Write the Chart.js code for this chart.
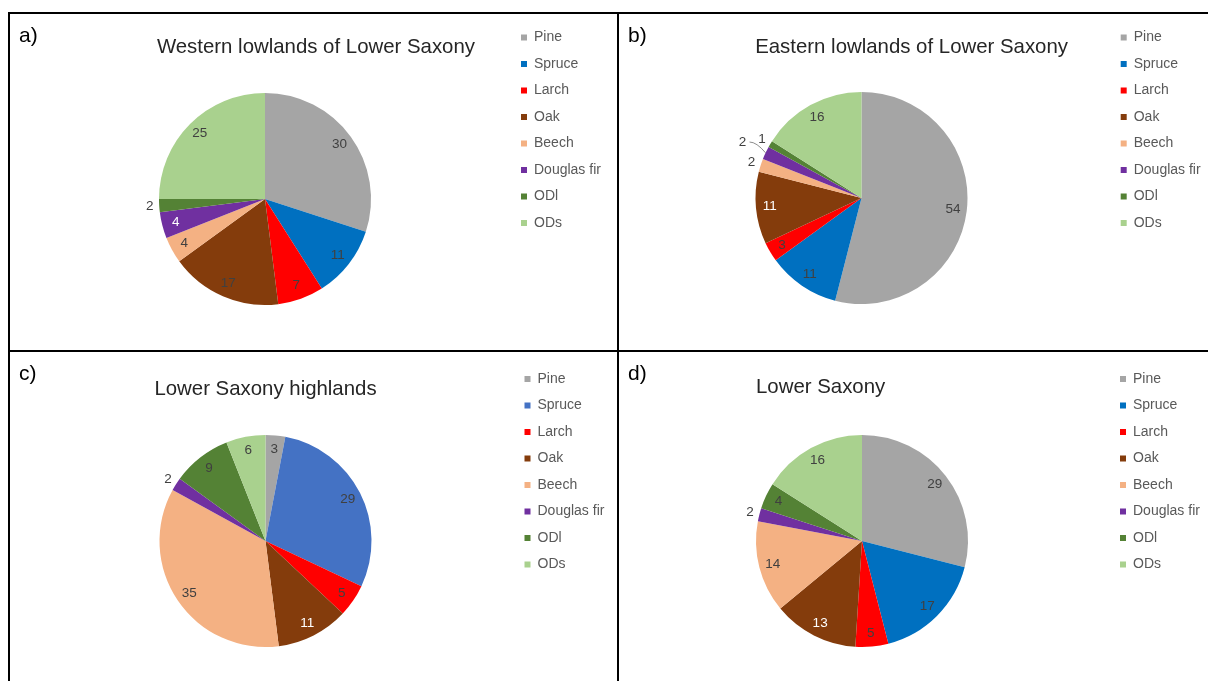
<!DOCTYPE html>
<html>
<head>
<meta charset="utf-8">
<title>Tree species shares in Lower Saxony</title>
<script src="https://cdn.jsdelivr.net/npm/chart.js@4.4.1/dist/chart.umd.min.js"></script>
<style>
  html, body { margin: 0; padding: 0; background: #fff; overflow: hidden; }
  #sheet { position: relative; width: 1208px; height: 681px; }
  #sheet canvas { position: absolute; }
  .rule { position: absolute; background: #000; }
</style>
</head>
<body>
<div id="sheet">
  <canvas id="chartA" width="607" height="336" style="left:10px;top:14px"></canvas>
  <canvas id="chartB" width="589" height="336" style="left:619px;top:14px"></canvas>
  <canvas id="chartC" width="607" height="329" style="left:10px;top:352px"></canvas>
  <canvas id="chartD" width="589" height="329" style="left:619px;top:352px"></canvas>
  <!-- panel frame -->
  <div class="rule" style="left:8px;top:12px;width:1200px;height:2px"></div>
  <div class="rule" style="left:8px;top:350px;width:1200px;height:2px"></div>
  <div class="rule" style="left:8px;top:12px;width:2px;height:669px"></div>
  <div class="rule" style="left:617px;top:12px;width:2px;height:669px"></div>
</div>
<script>
// species in every pie, clockwise from 12 o'clock
const species = ["Pine", "Spruce", "Larch", "Oak", "Beech", "Douglas fir", "ODl", "ODs"];

// share of each species (%)
const westernLowlands = [30, 11, 7, 17, 4, 4, 2, 25];
const easternLowlands = [54, 11, 3, 11, 2, 2, 1, 16];
const highlands = [3, 29, 5, 11, 35, 2, 9, 6];
const lowerSaxony = [29, 17, 5, 13, 14, 2, 4, 16];

const regionTitles = [
  "Western lowlands of Lower Saxony",
  "Eastern lowlands of Lower Saxony",
  "Lower Saxony highlands",
  "Lower Saxony",
];
const panelLetters = ["a)", "b)", "c)", "d)"];

// slice colours (the highlands chart uses a lighter blue for spruce)
const speciesColors = ["#a5a5a5", "#0070c0", "#ff0000", "#843c0c", "#f4b183", "#7030a0", "#548235", "#a9d18e"];
const highlandColors = ["#a5a5a5", "#4472c4", "#ff0000", "#843c0c", "#f4b183", "#7030a0", "#548235", "#a9d18e"];

const FONT = "'Liberation Sans', Arial, sans-serif";
Chart.defaults.font.family = FONT;

// legend column has the same width in every panel
const LEGEND_W = 95;

// empty layout box between the pie and the legend
const makeLegendGap = (width) => ({
  id: "legendGap",
  beforeInit(chart) {
    const legend = chart.legend;
    const fit = legend.fit;
    legend.fit = function () {
      fit.call(this);
      this.width = LEGEND_W;
    };
    Chart.layouts.addBox(chart, {
      position: "right",
      weight: 500,
      fullSize: false,
      options: {},
      isHorizontal: () => false,
      update(maxWidth, maxHeight) {
        this.width = width;
        this.height = maxHeight;
      },
      draw() {},
    });
  },
});

// value labels: inside the slice, outside for thin ones, one with a leader line
const valueLabels = {
  id: "valueLabels",
  afterDatasetsDraw(chart, args, opts) {
    const { ctx } = chart;
    const meta = chart.getDatasetMeta(0);
    const values = chart.data.datasets[0].data;
    ctx.save();
    ctx.font = "13.5px " + FONT;
    ctx.textAlign = "center";
    ctx.textBaseline = "middle";
    meta.data.forEach((arc, i) => {
      const { x, y, startAngle, endAngle, outerRadius } = arc.getProps(
        ["x", "y", "startAngle", "endAngle", "outerRadius"],
        true
      );
      const mid = (startAngle + endAngle) / 2;
      const lead = opts.leader.includes(i);
      const outside = opts.outside.includes(i);
      const r = outerRadius * (lead ? 1.24 : outside ? 1.09 : 0.87);
      const lx = x + Math.cos(mid) * r;
      const ly = y + Math.sin(mid) * r;
      if (lead) {
        ctx.strokeStyle = "#8c8c8c";
        ctx.lineWidth = 1;
        ctx.beginPath();
        ctx.moveTo(lx + 7, ly);
        ctx.quadraticCurveTo(lx + 14, ly, x + Math.cos(mid) * outerRadius, y + Math.sin(mid) * outerRadius);
        ctx.stroke();
      }
      ctx.fillStyle = opts.white.includes(i) ? "#ffffff" : "#404040";
      ctx.fillText(String(values[i]), lx, ly);
    });
    ctx.restore();
  },
};

// panel letter in the top left corner
const panelLetter = {
  id: "panelLetter",
  afterDraw(chart, args, opts) {
    const { ctx } = chart;
    ctx.save();
    ctx.font = "21px " + FONT;
    ctx.fillStyle = "#000";
    ctx.textAlign = "left";
    ctx.textBaseline = "alphabetic";
    ctx.fillText(opts.text, 9, 28);
    ctx.restore();
  },
};

const panels = [
  {
    id: "chartA", values: westernLowlands, colors: speciesColors, title: regionTitles[0], letter: panelLetters[0],
    titleAlign: "end", titlePad: { top: 17.6, bottom: 32.9 },
    pad: { top: 4, left: 45, right: 13.5, bottom: 45 }, gap: 33.5,
    outside: [6], leader: [], white: [5],
  },
  {
    id: "chartB", values: easternLowlands, colors: speciesColors, title: regionTitles[1], letter: panelLetters[1],
    titleAlign: "end", titlePad: { top: 17.6, bottom: 31.9 },
    pad: { top: 4, left: 36, right: 4.8, bottom: 46 }, gap: 40.2,
    outside: [4, 6], leader: [5], white: [3],
  },
  {
    id: "chartC", values: highlands, colors: highlandColors, title: regionTitles[2], letter: panelLetters[2],
    titleAlign: "center", titlePad: { top: 17.3, bottom: 33.7 },
    pad: { top: 7.5, left: 9, right: 10, bottom: 34 }, gap: 0,
    outside: [5], leader: [], white: [3],
  },
  {
    id: "chartD", values: lowerSaxony, colors: speciesColors, title: regionTitles[3], letter: panelLetters[3],
    titleAlign: "start", titlePad: { top: 15.3, bottom: 35.7 },
    pad: { top: 7.5, left: 137, right: 5.5, bottom: 34 }, gap: 139.5,
    outside: [5], leader: [], white: [3],
  },
];

panels.forEach((p) => {
  new Chart(document.getElementById(p.id), {
    type: "pie",
    data: {
      labels: species,
      datasets: [
        {
          data: p.values,
          backgroundColor: p.colors,
          borderWidth: 0,
          hoverBorderWidth: 0,
          hoverOffset: 0,
        },
      ],
    },
    options: {
      responsive: false,
      animation: false,
      layout: { padding: p.pad },
      plugins: {
        title: {
          display: true,
          text: p.title,
          fullSize: false,
          align: p.titleAlign,
          color: "#262626",
          font: { size: 20.4, weight: "normal" },
          padding: p.titlePad,
        },
        legend: {
          position: "right",
          align: "start",
          labels: {
            boxWidth: 6,
            boxHeight: 6,
            padding: 12.5,
            color: "#595959",
            font: { size: 14 },
          },
        },
        valueLabels: { outside: p.outside, leader: p.leader, white: p.white },
        panelLetter: { text: p.letter },
      },
    },
    plugins: [makeLegendGap(p.gap), valueLabels, panelLetter],
  });
});
</script>
</body>
</html>
